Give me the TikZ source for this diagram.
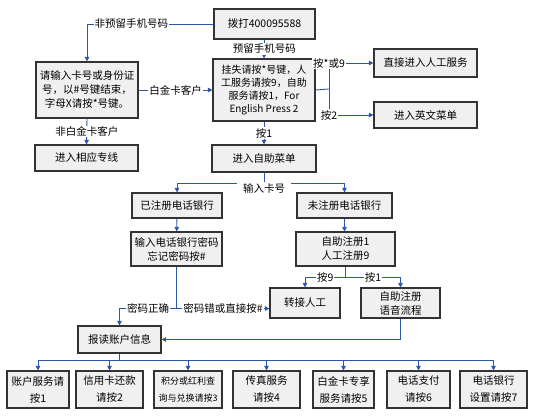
\documentclass[tikz,border=0pt]{standalone}
\usepackage{fontspec}
\setmainfont{Noto Sans CJK SC}
\usetikzlibrary{arrows.meta}
\definecolor{flowblue}{RGB}{45,88,170}
\definecolor{boxgray}{RGB}{240,240,240}
\tikzset{
    box/.style={draw=black!80, line width=1.1pt, fill=boxgray, align=center, inner sep=1pt,
        font=\fontsize{10.5}{14}\selectfont},
    lbl/.style={fill=white, inner sep=1pt, font=\fontsize{10.5}{12}\selectfont},
    line/.style={draw=flowblue, line width=0.9pt},
    arr/.style={line, ->}
}
\begin{document}
\begin{tikzpicture}[x=1pt, y=-1pt, >={Triangle[length=4.5pt,width=4.5pt]}]
        \useasboundingbox (0,0) rectangle (533,420);

        % Dial-in and first menu
        \node[box, minimum width=101, minimum height=30] (dial) at (264.5,24) {拨打400095588};
        \node[box, minimum width=102, minimum height=56] (card) at (87,90)
            {请输入卡号或身份证\\号，以\#号键结束，\\字母X请按*号键。};
        \node[box, minimum width=103, minimum height=26] (hotline) at (86.5,158) {进入相应专线};
        \node[box, minimum width=102, minimum height=62, font=\fontsize{10}{13}\selectfont] (menu) at (264,90)
            {挂失请按*号键，人\\工服务请按9，自助\\服务请按1，For\\English Press 2};
        \node[box, minimum width=103, minimum height=28] (human) at (425.5,63) {直接进入人工服务};
        \node[box, minimum width=103, minimum height=26] (english) at (425.5,115) {进入英文菜单};
        \node[box, minimum width=104, minimum height=27] (self) at (264,158.5) {进入自助菜单};

        % Phone banking
        \node[box, minimum width=90, minimum height=25] (reg) at (177,205.5) {已注册电话银行};
        \node[box, minimum width=95, minimum height=25] (unreg) at (344.5,205.5) {未注册电话银行};
        \node[box, minimum width=91, minimum height=34] (pwd) at (176.5,249) {输入电话银行密码\\忘记密码按\#};
        \node[box, minimum width=99, minimum height=34] (regopt) at (345.5,249) {自助注册1\\人工注册9};
        \node[box, minimum width=70, minimum height=30] (transfer) at (305,303) {转接人工};
        \node[box, minimum width=79, minimum height=30] (voice) at (400.5,303) {自助注册\\语音流程};
        \node[box, minimum width=83, minimum height=27] (info) at (119.5,339.5) {报读账户信息};

        % Service menu
        \foreach \x/\w/\f/\t [count=\i] in {38/62/10.5/{账户服务请\\按1}, 109.5/67/10.5/{信用卡还款\\请按2},
                188/68/9/{积分或红利查\\询与兑换请按3}, 266.5/67/10.5/{传真服务\\请按4},
                343.5/61/10.5/{白金卡专享\\服务请按5}, 418.5/63/10.5/{电话支付\\请按6},
                493.5/67/10.5/{电话银行\\设置请按7}} {
            \node[box, minimum width=\w, minimum height=37, font=\fontsize{\f}{17}\selectfont] (s\i) at (\x,389.5) {\t};
        }

        % Connections top part
        \draw[arr] (dial.west) -- node[lbl, pos=0.65] {非预留手机号码} (card.north |- dial.west) -- (card.north);
        \draw[arr] (dial.south) -- node[lbl] {预留手机号码} (menu.north);
        \draw[arr] (card.east) -- node[lbl] {白金卡客户} (menu.west);
        \draw[arr] (card.south) -- node[lbl] {非白金卡客户} (hotline.north);
        \draw[arr] (menu.south) -- node[lbl] {按1} (self.north);

        % Menu options
        \coordinate (fork) at (329,89);
        \draw[line] (fork |- human.west) -- (fork |- english.west);
        \draw[line] (menu.east) -- (fork);
        \draw[arr] (fork |- human.west) -- node[lbl, pos=0] {按*或9} (human.west);
        \draw[arr] (fork |- english.west) -- node[lbl, pos=0] {按2} (english.west);

        % Card number
        \draw[line] (self.south) -- ++(0,11) coordinate (split);
        \draw[arr] (split) -- (reg.north |- split) -- (reg.north);
        \draw[arr] (split) -- (unreg.north |- split) -- (unreg.north);
        \node[lbl, inner xsep=6pt] (cardlbl) at (264,188) {输入卡号};
        \draw[arr] (reg) -- (pwd);
        \draw[arr] (unreg.south) -- (unreg.south |- regopt.north);

        % Password
        \draw[line] (pwd.south) -- ++(0,42) coordinate (pwdsplit);
        \draw[arr] (pwdsplit) -- node[lbl] {密码正确} (info.north |- pwdsplit) -- (info.north);
        \draw[arr] (pwdsplit) -- node[lbl] {密码错或直接按\#} (transfer.west |- pwdsplit);

        % Registration
        \draw[line] (regopt.south) -- ++(0,11) coordinate (regsplit);
        \draw[arr] (regsplit) -- node[lbl] {按9} (transfer.north |- regsplit) -- (transfer.north);
        \draw[arr] (regsplit) -- node[lbl] {按1} (voice.north |- regsplit) -- (voice.north);
        \draw[arr] (voice.south) -- (voice.south |- info.east) -- (info.east);

        % Service bus
        \draw[line] (info.south) -- ++(0,7) coordinate (bus);
        \draw[line] (s1.north |- bus) -- (s7.north |- bus);
        \foreach \i in {1,...,7} {
            \draw[arr] (s\i.north |- bus) -- (s\i.north);
        }
    \end{tikzpicture}
\end{document}
